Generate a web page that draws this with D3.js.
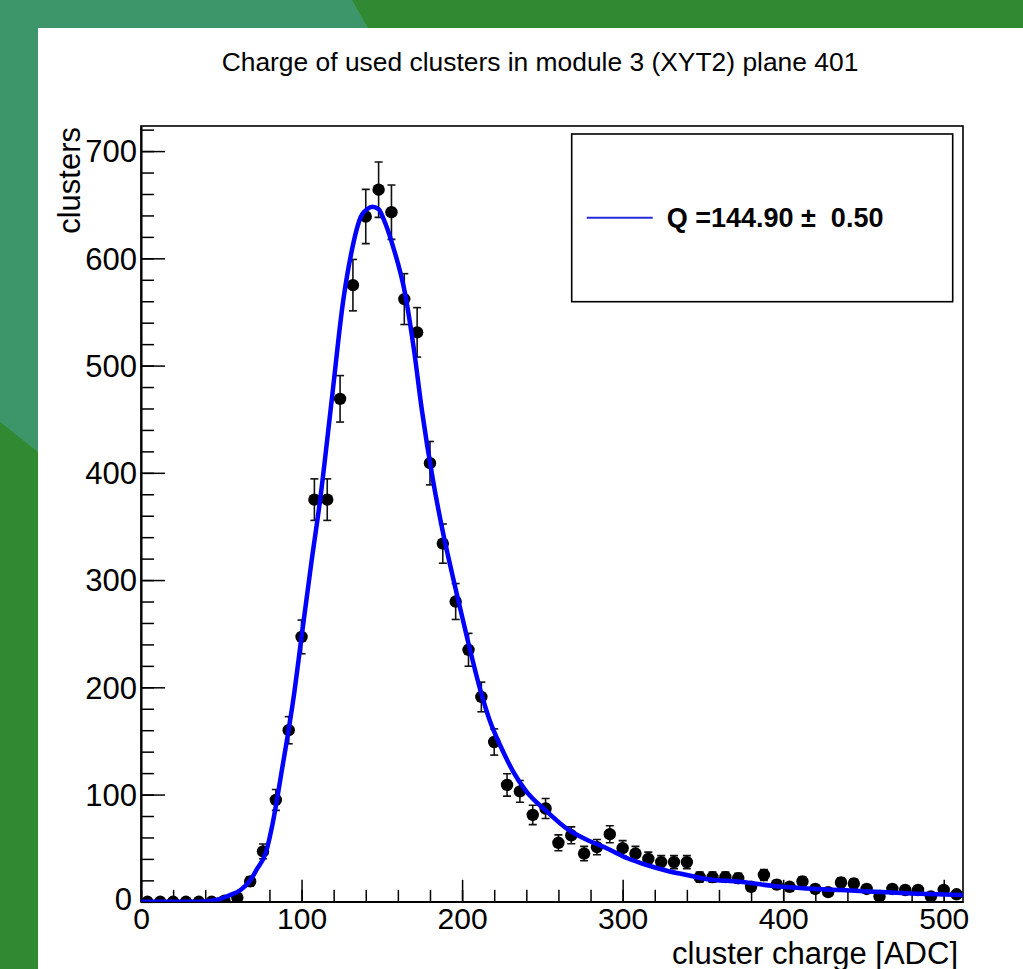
<!DOCTYPE html>
<html>
<head>
<meta charset="utf-8">
<script src="https://cdn.jsdelivr.net/npm/d3@7"></script>
<style>
  html, body { margin: 0; padding: 0; background: #318a31; }
  svg { display: block; }
  text { font-family: "Liberation Sans", Arial, Helvetica, sans-serif; fill: #000; }
</style>
</head>
<body>
<svg id="chart" width="1023" height="969"></svg>
<script>
// ---- data ----
const binCenters = [4,12,20,28,36,44,52,60,68,76,84,92,100,108,116,124,132,140,148,156,164,172,180,188,196,204,212,220,228,236,244,252,260,268,276,284,292,300,308,316,324,332,340,348,356,364,372,380,388,396,404,412,420,428,436,444,452,460,468,476,484,492,500,508];
const counts = [0,0,0,0,0,0,1,4,19,47,95,160,247,375,375,469,575,639,664,643,562,531,409,334,280,235,191,149,109,103,81,87,55,62,45,51,63,50,45,40,37,37,37,23,23,23,22,14,25,16,14,19,12,9,18,17,12,5,12,11,11,5,11,7];
const fitX = [0,30,40,46,50,55,62,68,72,78,82,88,95,100,106,111.5,118.8,126,131,137,141,144,148,151,157,164.5,170,175,182,188,195,203,212,217,224,232,240,253,265,278,290,303,315,327.5,340,352,373,394,415,436,456,477,512];
const fitY = [0,0,0.3,1.5,3,6,11,20,30,47,73,125,190,247,315,374,468,561,605,639,646,648,646,637,611,567,515,458,392,345,298,247,194,170,145,121,103,84,68.5,57.6,50,40.6,34.3,29,25,21.3,18.7,14.7,12.5,11,9.4,7.9,6.3];
const xMajorTicks = [0,100,200,300,400,500];
const yMajorTicks = [0,100,200,300,400,500,600,700];
const titleText = "Charge of used clusters in module 3 (XYT2) plane 401";
const xTitle = "cluster charge [ADC]";
const yTitle = "clusters";
const legendText = "Q =144.90 \u00b1  0.50";

// ---- layout ----
const svg = d3.select("#chart");
const W = 1023, H = 969;
const frame = { left: 141, right: 963, top: 126, bottom: 901.8 };

// background
svg.append("rect").attr("x", 0).attr("y", 0).attr("width", W).attr("height", H).attr("fill", "#318a31");
svg.append("path")
  .attr("d", "M0,0 L352,0 L368,28 L300,200 L38,452 L0,422 Z")
  .attr("fill", "#3d9669");
svg.append("rect").attr("x", 38).attr("y", 28).attr("width", W - 38).attr("height", H - 28).attr("fill", "#ffffff");

const x = d3.scaleLinear().domain([0, 512]).range([frame.left, frame.right]);
const y = d3.scaleLinear().domain([0, 723.4]).range([frame.bottom, frame.top]);

// title
svg.append("text")
  .attr("x", 540).attr("y", 71)
  .attr("text-anchor", "middle")
  .style("font-size", "26.4px")
  .text(titleText);

// frame
svg.append("rect")
  .attr("x", frame.left).attr("y", frame.top)
  .attr("width", frame.right - frame.left).attr("height", frame.bottom - frame.top)
  .attr("fill", "none").attr("stroke", "#000").attr("stroke-width", 1.6);

// axes
const minorX = d3.range(0, 513, 20);
const minorY = d3.range(0, 724, 20);

const gxMinor = svg.append("g").attr("transform", `translate(0,${frame.bottom})`)
  .call(d3.axisBottom(x).tickValues(minorX).tickSize(-12).tickSizeOuter(0).tickFormat(""));
const gx = svg.append("g").attr("transform", `translate(0,${frame.bottom})`)
  .call(d3.axisBottom(x).tickValues(xMajorTicks).tickSize(-22).tickSizeOuter(0).tickPadding(6).tickFormat(d3.format("d")));
const gyMinor = svg.append("g").attr("transform", `translate(${frame.left},0)`)
  .call(d3.axisLeft(y).tickValues(minorY).tickSize(-13).tickSizeOuter(0).tickFormat(""));
const gy = svg.append("g").attr("transform", `translate(${frame.left},0)`)
  .call(d3.axisLeft(y).tickValues(yMajorTicks).tickSize(-24).tickSizeOuter(0).tickPadding(4).tickFormat(d3.format("d")));

[gxMinor, gx, gyMinor, gy].forEach(g => {
  g.select(".domain").attr("stroke", "#000").attr("stroke-width", 1.6);
  g.selectAll(".tick line").attr("stroke", "#000").attr("stroke-width", 1.5);
  g.selectAll(".tick text")
    .style("font-family", '"Liberation Sans", Arial, Helvetica, sans-serif').attr("fill", "#000");
});
gx.selectAll(".tick text").style("font-size", "30px");
gy.selectAll(".tick text").style("font-size", "31px").attr("dy", "0.35em");
// keep the two origin zeros from colliding
gy.selectAll(".tick text").filter(d => d === 0).attr("x", -9).attr("dy", "0.25em");

// axis titles
svg.append("text")
  .attr("x", 958).attr("y", 963.5)
  .attr("text-anchor", "end")
  .style("font-size", "31px")
  .text(xTitle);
svg.append("text")
  .attr("transform", "translate(80,127) rotate(-90)")
  .attr("text-anchor", "end")
  .style("font-size", "31px")
  .text(yTitle);

// clip
svg.append("clipPath").attr("id", "clipFrame")
  .append("rect").attr("x", frame.left).attr("y", frame.top)
  .attr("width", frame.right - frame.left).attr("height", frame.bottom - frame.top);

const plot = svg.append("g").attr("clip-path", "url(#clipFrame)");

// error bars (Poisson errors of histogram bins)
const pts = binCenters.map((c, i) => ({ x: c, v: counts[i], e: Math.sqrt(counts[i]) }));
const eb = plot.append("g").attr("stroke", "#111").attr("stroke-width", 1.6);
pts.filter(d => d.e > 0).forEach(d => {
  const cx = x(d.x), y1 = y(d.v + d.e), y0 = y(d.v - d.e);
  eb.append("line").attr("x1", cx).attr("x2", cx).attr("y1", y1).attr("y2", y0);
  eb.append("line").attr("x1", cx - 4).attr("x2", cx + 4).attr("y1", y1).attr("y2", y1);
  eb.append("line").attr("x1", cx - 4).attr("x2", cx + 4).attr("y1", y0).attr("y2", y0);
});

// markers
plot.append("g").selectAll("circle").data(pts).join("circle")
  .attr("cx", d => x(d.x)).attr("cy", d => y(d.v)).attr("r", 6.2).attr("fill", "#000");

// fit curve
const fitData = fitX.map((v, i) => [v, fitY[i]]);
plot.append("path")
  .datum(fitData)
  .attr("fill", "none").attr("stroke", "#0000ff").attr("stroke-width", 4.5)
  .attr("stroke-linejoin", "round")
  .attr("d", d3.line().x(d => x(d[0])).y(d => y(d[1])).curve(d3.curveMonotoneX));

// legend
const lg = svg.append("g");
lg.append("rect").attr("x", 571.7).attr("y", 134).attr("width", 381).attr("height", 167.7)
  .attr("fill", "#fff").attr("stroke", "#000").attr("stroke-width", 1.6);
lg.append("line").attr("x1", 586.7).attr("x2", 652.7).attr("y1", 217.7).attr("y2", 217.7)
  .attr("stroke", "#2a2ad8").attr("stroke-width", 2);
lg.append("text").attr("x", 666.7).attr("y", 226.5)
  .style("font-size", "27px").style("font-weight", "bold").style("white-space", "pre")
  .text(legendText);
</script>
</body>
</html>
